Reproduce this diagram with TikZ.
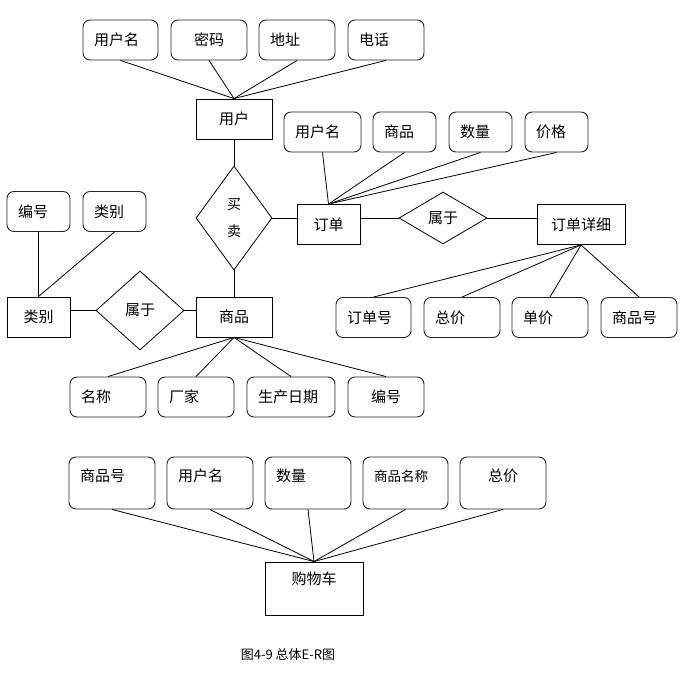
\documentclass[tikz,border=0pt]{standalone}
\usepackage{fontspec}
\setmainfont{Noto Sans CJK SC}
\usepackage{tikz}
\usetikzlibrary{shapes.geometric}
\tikzset{
  entity/.style={draw, line width=0.9pt, minimum width=#1, minimum height=40pt, inner sep=0pt, font=\fontsize{15}{18}\selectfont},
  entity/.default=76pt,
  attr/.style={draw=black!85, line width=0.9pt, rounded corners=7pt, text width=#1, align=left, inner xsep=11pt, inner ysep=0pt, minimum height=40pt, font=\fontsize{15}{18}\selectfont},
  attr/.default=54pt,
  cartattr/.style={attr=#1, minimum height=0pt, text height=24pt, text depth=28pt},
  cartattr/.default=64pt,
  rel/.style={diamond, draw, line width=0.8pt, inner sep=0pt, align=center, font=\fontsize{15}{18}\selectfont},
  link/.style={line width=0.8pt}
}

\begin{document}
\begin{tikzpicture}[x=1pt, y=-1pt]
\useasboundingbox[fill=white] (0,0) rectangle (691,690);

\node[attr=53pt] (uname) at (120.5,40) {用户名};
\node[attr, align=center] (upwd) at (209,40) {密码};
\node[attr] (uaddr) at (297,40) {地址};
\node[attr] (utel) at (386,40) {电话};
\node[entity] (user) at (234,119) {用户};

\node[rel, minimum width=76pt, minimum height=104pt, font=\fontsize{14}{27}\selectfont] (buy) at (234,218) {买\\卖};

\node[attr=55pt] (oname) at (322.5,132) {用户名};
\node[attr=41pt] (ogoods) at (404.5,132) {商品};
\node[attr=41pt] (onum) at (480.5,132) {数量};
\node[attr=41pt] (oprice) at (556.5,132) {价格};
\node[entity=63pt] (order) at (328.5,224.5) {订单};

\node[rel, minimum width=88pt, minimum height=52pt] (belong2) at (443,218) {属于};
\node[entity=88pt] (detail) at (581,224.5) {订单详细};

\node[attr=53pt] (did) at (373.5,317.5) {订单号};
\node[attr] (dtotal) at (462,317.5) {总价};
\node[attr] (dunit) at (550,317.5) {单价};
\node[attr] (dgid) at (639,317.5) {商品号};

\node[attr=41pt] (cid) at (38.5,211.5) {编号};
\node[attr=41pt] (cname) at (114.5,211.5) {类别};
\node[entity=63pt] (cat) at (38.5,317) {类别};
\node[rel, minimum width=88pt, minimum height=79pt] (belong1) at (140,310.5) {属于};
\node[entity] (goods) at (234,317) {商品};

\node[attr] (gname) at (108,397) {名称};
\node[attr] (gmaker) at (196,397) {厂家};
\node[attr=66pt] (gdate) at (291,397) {生产日期};
\node[attr, align=center] (gid) at (386,397) {编号};

\node[cartattr] (kgid) at (112,483) {商品号};
\node[cartattr] (kuser) at (210,483) {用户名};
\node[cartattr] (knum) at (308,483) {数量};
\node[cartattr=63pt, font=\fontsize{13.5}{16}\selectfont] (kgname) at (405.5,483) {商品名称};
\node[cartattr, align=center] (ktotal) at (503,483) {总价};
\node[entity=98pt, minimum height=0pt, text height=22pt, text depth=31pt] (cart) at (314,588.5) {购物车};

\node[font=\fontsize{13}{15}\selectfont] (caption) at (288,655) {图4-9 总体E-R图};

\draw[link] (uname.south) -- (user.north);
\draw[link] (upwd.south) -- (user.north);
\draw[link] (uaddr.south) -- (user.north);
\draw[link] (utel.south) -- (user.north);
\draw[link] (user.south) -- (buy.north);
\draw[link] (buy.south) -- (goods.north);
\draw[link] (buy.east) -- (buy.east -| order.west);

\draw[link] (oname.south) -- (order.north);
\draw[link] (ogoods.south) -- (order.north);
\draw[link] (onum.south) -- (order.north);
\draw[link] (oprice.south) -- (order.north);
\draw[link] (belong2.west -| order.east) -- (belong2.west);
\draw[link] (belong2.east) -- (belong2.east -| detail.west);

\draw[link] (detail.south) -- (did.north);
\draw[link] (detail.south) -- (dtotal.north);
\draw[link] (detail.south) -- (dunit.north);
\draw[link] (detail.south) -- (dgid.north);

\draw[link] (cid.south) -- (cat.north);
\draw[link] (cname.south) -- (cat.north);
\draw[link] (belong1.west -| cat.east) -- (belong1.west);
\draw[link] (belong1.east) -- (belong1.east -| goods.west);

\draw[link] (goods.south) -- (gname.north);
\draw[link] (goods.south) -- (gmaker.north);
\draw[link] (goods.south) -- (gdate.north);
\draw[link] (goods.south) -- (gid.north);

\draw[link] (kgid.south) -- (cart.north);
\draw[link] (kuser.south) -- (cart.north);
\draw[link] (knum.south) -- (cart.north);
\draw[link] (kgname.south) -- (cart.north);
\draw[link] (ktotal.south) -- (cart.north);
\end{tikzpicture}
\end{document}
